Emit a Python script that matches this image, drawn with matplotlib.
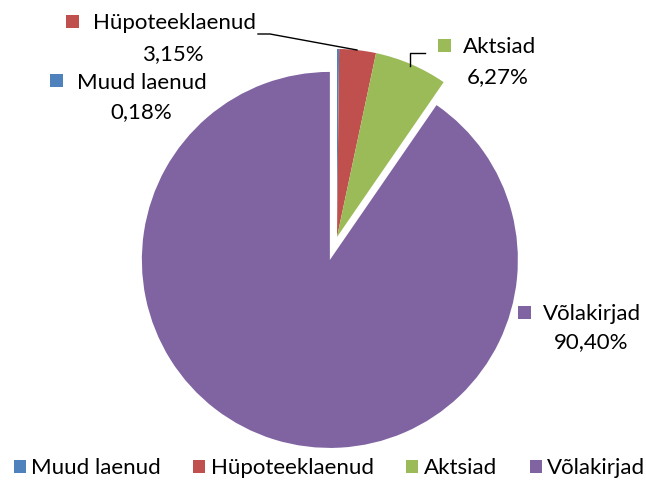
import matplotlib.pyplot as plt
from matplotlib.patches import Rectangle

labels = ['Muud laenud', 'Hüpoteeklaenud', 'Aktsiad', 'Võlakirjad']
values = [0.18, 3.15, 6.27, 90.40]
colors = ['#4F81BD', '#C0504D', '#9BBB59', '#8064A2']

plt.rcParams['font.family'] = ['Lato', 'DejaVu Sans']
FS = 16

W, H = 646, 484
fig = plt.figure(figsize=(W / 100, H / 100), dpi=100)
ax = fig.add_axes([0, 0, 1, 1])


def py(y):
    # pixel row from top -> data y
    return H - y


# explode is in data units here (pixels), not a fraction of the radius
wedges, _ = ax.pie(values, colors=colors, startangle=90, counterclock=False,
                   explode=[0, 0, 0, 24], center=(337, py(237)), radius=188,
                   wedgeprops=dict(linewidth=0))

# data labels: (square x, square top, name x, name baseline, value center x, value baseline)
label_pos = [
    (50, 74, 77, 89, 141, 118),
    (66, 15, 93, 29, 173, 60),
    (438, 39, 463, 53, 498, 83),
    (518, 306, 543, 320, 591, 348),
]
for (sx, sy, tx, ty, vx, vy), name, v, c in zip(label_pos, labels, values, colors):
    ax.add_patch(Rectangle((sx, py(sy + 13)), 13, 13, color=c, lw=0))
    ax.text(tx, py(ty), name, fontsize=FS, ha='left', va='baseline')
    ax.text(vx, py(vy), f"{v:.2f}".replace('.', ',') + '%', fontsize=FS,
            ha='center', va='baseline')

# leader lines
ax.plot([258, 270, 357], [py(34), py(34), py(50)], color='black', lw=1)
ax.plot([410, 410, 425], [py(66), py(53), py(53)], color='black', lw=1)

ax.legend(wedges, labels, loc='lower center', bbox_to_anchor=(0.51, 0.0), ncol=4,
          frameon=False, fontsize=FS, handlelength=0.55, handleheight=0.55,
          handletextpad=0.25, columnspacing=1.45, borderaxespad=0, borderpad=0.25)

ax.set_xlim(0, W)
ax.set_ylim(0, H)
ax.set_aspect('equal')
ax.axis('off')

fig.savefig('out.png', dpi=100)
